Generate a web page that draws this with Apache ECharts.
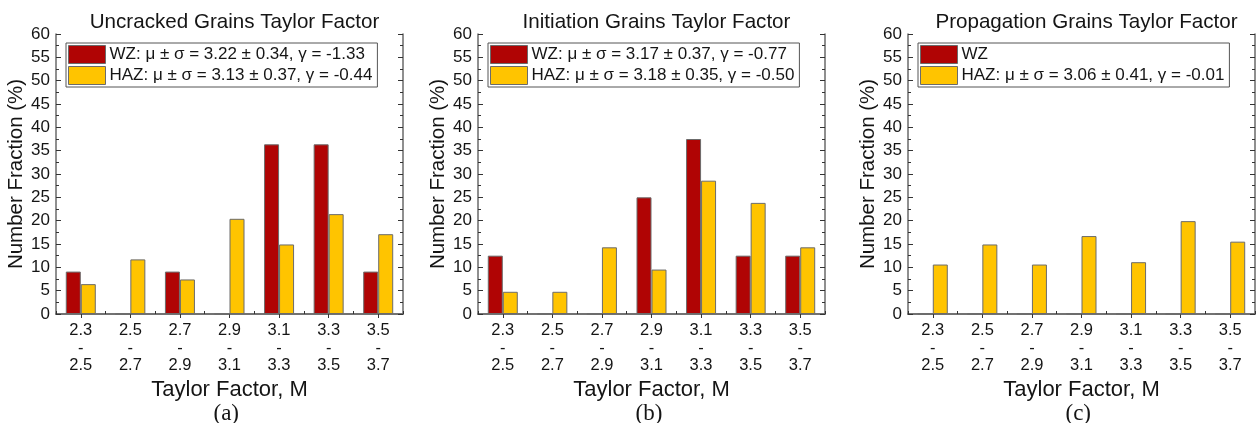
<!DOCTYPE html>
<html>
<head>
<meta charset="utf-8">
<script src="https://cdn.jsdelivr.net/npm/echarts@6/dist/echarts.min.js"></script>
<style>html,body{margin:0;padding:0;background:#fff;}#c{width:1258px;height:423px;}</style>
</head>
<body>
<div id="c"></div>
<script>
const categories = ['2.3\n-\n2.5', '2.5\n-\n2.7', '2.7\n-\n2.9', '2.9\n-\n3.1', '3.1\n-\n3.3', '3.3\n-\n3.5', '3.5\n-\n3.7'];
const yTicks = { min: 0, max: 60, interval: 5 };

const titles = ['Uncracked Grains Taylor Factor', 'Initiation Grains Taylor Factor', 'Propagation Grains Taylor Factor'];
const panelLabels = ['(a)', '(b)', '(c)'];

const wzNames = ['WZ: μ ± σ = 3.22 ± 0.34, γ = -1.33', 'WZ: μ ± σ = 3.17 ± 0.37, γ = -0.77', 'WZ'];
const hazNames = ['HAZ: μ ± σ = 3.13 ± 0.37, γ = -0.44', 'HAZ: μ ± σ = 3.18 ± 0.35, γ = -0.50', 'HAZ: μ ± σ = 3.06 ± 0.41, γ = -0.01'];

const wzUncracked = [9.09, 0, 9.09, 0, 36.36, 36.36, 9.09];
const hazUncracked = [6.4, 11.7, 7.4, 20.4, 14.9, 21.4, 17.1];
const wzInitiation = [12.5, 0, 0, 25.0, 37.5, 12.5, 12.5];
const hazInitiation = [4.76, 4.76, 14.29, 9.52, 28.57, 23.81, 14.29];
const wzPropagation = [0, 0, 0, 0, 0, 0, 0];
const hazPropagation = [10.6, 14.9, 10.6, 16.7, 11.1, 19.9, 15.5];

const wzData = [wzUncracked, wzInitiation, wzPropagation];
const hazData = [hazUncracked, hazInitiation, hazPropagation];

const WZ_COLOR = '#B00404';
const HAZ_COLOR = '#FFC400';
const FRAME = '#6a6a6a';
const TEXT = '#151515';
const FONT = 'Liberation Sans, Arial, sans-serif';

const plotLefts = [56, 478, 908];
const plotWidth = 347;
const plotTop = 34;
const plotBottom = 314;

const grid = [], xAxis = [], yAxis = [], series = [], title = [], legend = [], graphic = [];

for (let i = 0; i < 3; i++) {
  const L = plotLefts[i];
  grid.push({ left: L, top: plotTop, width: plotWidth, height: plotBottom - plotTop, containLabel: false });
  xAxis.push({
    type: 'category', data: categories, gridIndex: i, position: 'bottom',
    axisLine: { show: true, lineStyle: { color: FRAME, width: 1.5 } },
    axisTick: { show: true, inside: true, length: 3, alignWithLabel: false, lineStyle: { color: '#333', width: 1 } },
    axisLabel: { color: TEXT, fontSize: 16.5, fontFamily: FONT, lineHeight: 17.5, margin: 8, interval: 0 },
    name: 'Taylor Factor, M', nameLocation: 'middle', nameGap: 53,
    nameTextStyle: { color: TEXT, fontSize: 22, fontFamily: FONT }
  });
  xAxis.push({
    type: 'category', data: categories, gridIndex: i, position: 'top',
    axisLine: { show: true, lineStyle: { color: FRAME, width: 1.5 } },
    axisTick: { show: true, inside: true, length: 4, alignWithLabel: true, lineStyle: { color: '#333', width: 1 } },
    axisLabel: { show: false }
  });
  yAxis.push({
    type: 'value', gridIndex: i, position: 'left', min: yTicks.min, max: yTicks.max, interval: yTicks.interval,
    axisLine: { show: true, lineStyle: { color: FRAME, width: 1.5 } },
    axisTick: { show: true, inside: true, length: 5, lineStyle: { color: '#333', width: 1 } },
    minorTick: { show: true, splitNumber: 2, length: 3, lineStyle: { color: '#333', width: 1 } },
    splitLine: { show: false },
    axisLabel: { color: TEXT, fontSize: 17, fontFamily: FONT, margin: 6 },
    name: 'Number Fraction (%)', nameLocation: 'middle', nameGap: 28, nameRotate: 90,
    nameTextStyle: { color: TEXT, fontSize: 20.5, fontFamily: FONT }
  });
  yAxis.push({
    type: 'value', gridIndex: i, position: 'right', min: yTicks.min, max: yTicks.max, interval: yTicks.interval,
    axisLine: { show: true, lineStyle: { color: FRAME, width: 1.5 } },
    axisTick: { show: true, inside: true, length: 5, lineStyle: { color: '#333', width: 1 } },
    minorTick: { show: true, splitNumber: 2, length: 3, lineStyle: { color: '#333', width: 1 } },
    splitLine: { show: false },
    axisLabel: { show: false }
  });

  series.push({
    type: 'bar', name: wzNames[i], xAxisIndex: 2 * i, yAxisIndex: 2 * i, data: wzData[i],
    barWidth: 15, barGap: '0%',
    itemStyle: { color: WZ_COLOR, borderColor: '#6b6b6b', borderWidth: 1 },
    emphasis: { disabled: true }, animation: false
  });
  series.push({
    type: 'bar', name: hazNames[i], xAxisIndex: 2 * i, yAxisIndex: 2 * i, data: hazData[i],
    barWidth: 15, barGap: '0%',
    itemStyle: { color: HAZ_COLOR, borderColor: '#6b6b6b', borderWidth: 1 },
    emphasis: { disabled: true }, animation: false
  });

  title.push({
    text: titles[i], left: L + plotWidth / 2, top: 7, textAlign: 'center',
    textStyle: { color: TEXT, fontSize: 20.6, fontWeight: 'normal', fontFamily: FONT }
  });

  legend.push({
    data: [wzNames[i], hazNames[i]], orient: 'vertical', left: L + 10, top: 43,
    itemWidth: 37, itemHeight: 18, itemGap: 2, padding: [2, 5, 2, 2],
    borderColor: '#555', borderWidth: 1, backgroundColor: '#fff',
    icon: 'rect', selectedMode: false,
    itemStyle: { borderColor: '#6b6b6b', borderWidth: 1 },
    textStyle: { color: TEXT, fontSize: 17, fontFamily: FONT, padding: [0, 0, 0, -1] }
  });

  graphic.push({
    type: 'text', left: L + plotWidth / 2 - 16, top: 402,
    style: { text: panelLabels[i], fill: TEXT, fontSize: 23, fontFamily: 'Liberation Serif, Times New Roman, serif' }
  });
}

const chart = echarts.init(document.getElementById('c'), null, { renderer: 'canvas' });
chart.setOption({
  backgroundColor: '#fff',
  animation: false,
  title, legend, grid, xAxis, yAxis, series, graphic
});
</script>
</body>
</html>
